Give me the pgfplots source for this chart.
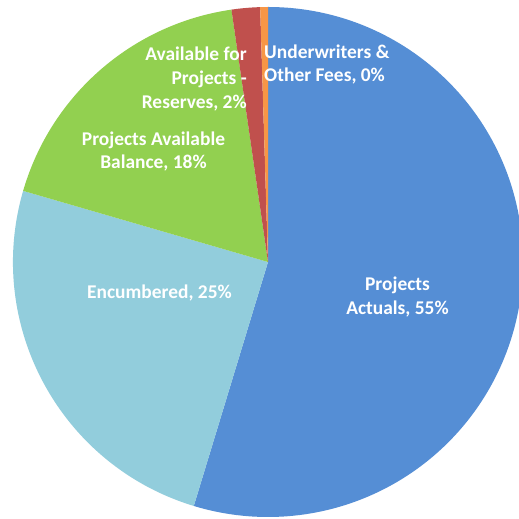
\documentclass[border=0pt]{standalone}
\usepackage{pgfplots}
\usepackage{pgfplotstable}
\pgfplotsset{compat=1.18}
\usepackage{fontspec}
\setmainfont{Carlito}
\definecolor{cActual}{RGB}{85,142,213}
\definecolor{cEnc}{RGB}{146,205,220}
\definecolor{cBal}{RGB}{146,208,80}
\definecolor{cRes}{RGB}{192,80,77}
\definecolor{cFee}{RGB}{247,150,70}
\pgfplotstableread{
label value
Actuals 54.7
Encumbered 24.8
Balance 18.21
Reserves 1.8
Fees 0.49
}\piedata
\pgfmathsetmacro\aA{90}
\pgfplotstablegetelem{0}{value}\of\piedata \pgfmathsetmacro\aB{\aA-3.6*\pgfplotsretval}
\pgfplotstablegetelem{1}{value}\of\piedata \pgfmathsetmacro\aC{\aB-3.6*\pgfplotsretval}
\pgfplotstablegetelem{2}{value}\of\piedata \pgfmathsetmacro\aD{\aC-3.6*\pgfplotsretval}
\pgfplotstablegetelem{3}{value}\of\piedata \pgfmathsetmacro\aE{\aD-3.6*\pgfplotsretval}
\pgfplotstablegetelem{4}{value}\of\piedata \pgfmathsetmacro\aF{\aE-3.6*\pgfplotsretval}
\def\R{255bp}
\begin{document}
\begin{tikzpicture}
\begin{axis}[name=ax, hide axis, scale only axis, width=519bp, height=519bp,
  xmin=-268, xmax=251, ymin=-257, ymax=262, clip=true]
\fill[white] (rel axis cs:0,0) rectangle (rel axis cs:1,1);
\fill[cActual] (axis cs:0,0) -- +(\aA:\R) arc[start angle=\aA, end angle=\aB, radius=\R] -- cycle;
\fill[cEnc] (axis cs:0,0) -- +(\aB:\R) arc[start angle=\aB, end angle=\aC, radius=\R] -- cycle;
\fill[cBal] (axis cs:0,0) -- +(\aC:\R) arc[start angle=\aC, end angle=\aD, radius=\R] -- cycle;
\fill[cRes] (axis cs:0,0) -- +(\aD:\R) arc[start angle=\aD, end angle=\aE, radius=\R] -- cycle;
\fill[cFee] (axis cs:0,0) -- +(\aE:\R) arc[start angle=\aE, end angle=\aF, radius=\R] -- cycle;
\tikzset{lbl/.style={text=white, align=center, font=\bfseries\fontsize{19.5}{24}\selectfont, inner sep=0pt}}
\node[lbl, anchor=west, align=left] at (axis cs:-4,197.5) {Underwriters \&\\Other Fees, 0\%};
\node[lbl, anchor=east, align=right] at (axis cs:-21,183) {Available for\\Projects -\\Reserves, 2\%};
\node[lbl] at (axis cs:-114.5,110.5) {Projects Available\\Balance, 18\%};
\node[lbl] at (axis cs:-108.5,-31) {Encumbered, 25\%};
\node[lbl] at (axis cs:129.5,-35) {Projects\\Actuals, 55\%};
\end{axis}
\pgfresetboundingbox
\path (ax.south west) rectangle (ax.north east);
\end{tikzpicture}
\end{document}
